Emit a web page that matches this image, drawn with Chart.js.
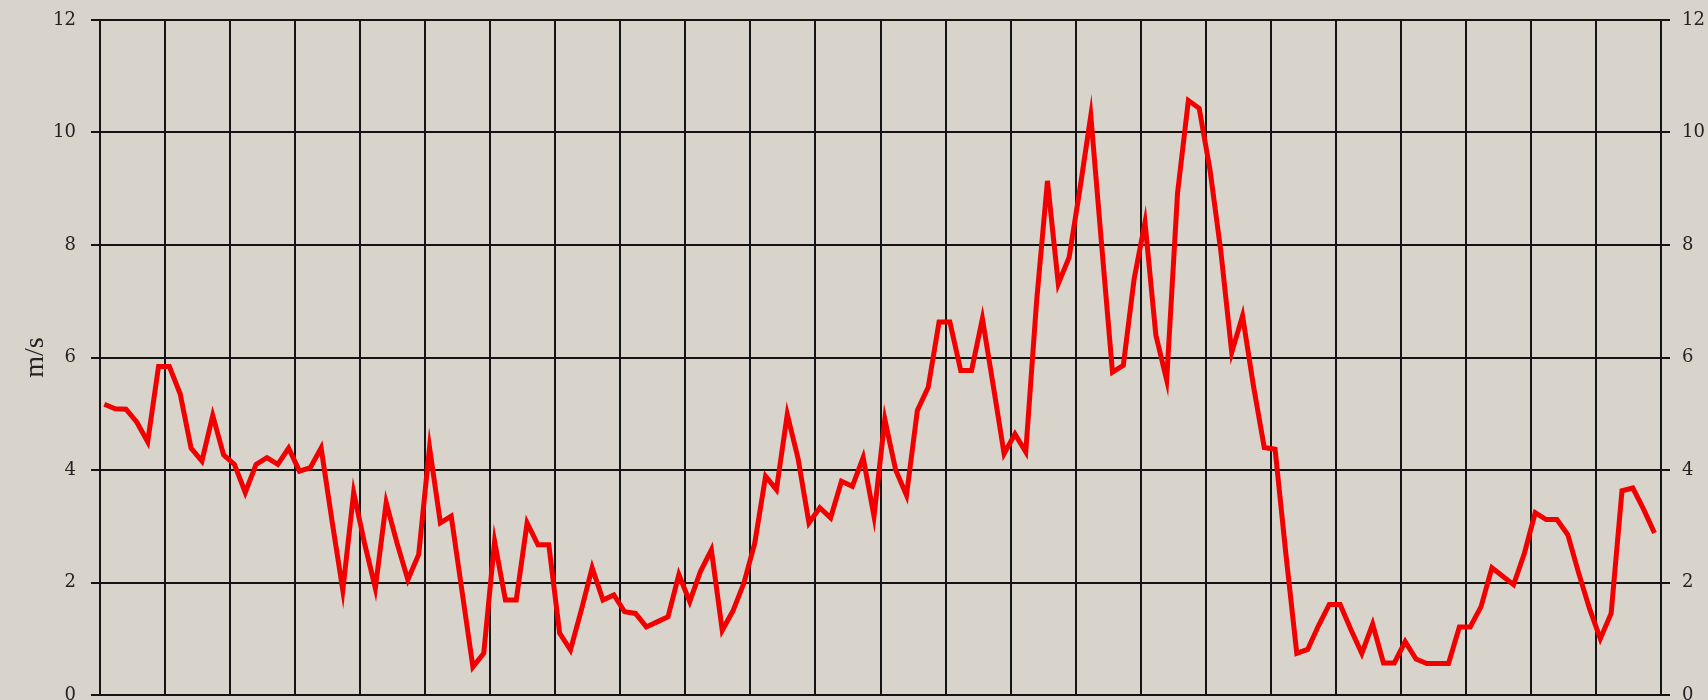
<!DOCTYPE html>
<html>
<head>
<meta charset="utf-8">
<title>Wind speed</title>
<script src="https://cdn.jsdelivr.net/npm/chart.js@4.4.1/dist/chart.umd.min.js"></script>
<style>
  html, body { margin: 0; padding: 0; background: #d8d4cc; overflow: hidden; }
  #wrap { width: 1708px; height: 720px; position: relative; }
  canvas { display: block; }
</style>
</head>
<body>
<div id="wrap"><canvas id="c" width="1708" height="720"></canvas></div>
<script>
// Wind speed readings, one every slot (6 slots per grid division)
const speeds = [
  5.17, 5.09, 5.08, 4.85, 4.50, 5.84, 5.84, 5.35, 4.39, 4.16,
  4.97, 4.27, 4.10, 3.60, 4.10, 4.22, 4.10, 4.39, 3.98, 4.04,
  4.39, 3.10, 1.86, 3.60, 2.70, 1.90, 3.42, 2.70, 2.05, 2.50,
  4.40, 3.06, 3.18, 1.84, 0.50, 0.74, 2.73, 1.69, 1.69, 3.06,
  2.67, 2.67, 1.10, 0.80, 1.51, 2.26, 1.69, 1.78, 1.48, 1.45,
  1.21, 1.30, 1.39, 2.14, 1.66, 2.20, 2.58, 1.15, 1.50, 1.99,
  2.70, 3.89, 3.65, 4.99, 4.20, 3.06, 3.33, 3.15, 3.80, 3.71,
  4.22, 3.18, 4.90, 4.00, 3.55, 5.06, 5.47, 6.63, 6.63, 5.77,
  5.77, 6.69, 5.50, 4.29, 4.64, 4.32, 7.00, 9.14, 7.31, 7.78,
  9.00, 10.30, 8.00, 5.74, 5.86, 7.40, 8.40, 6.40, 5.60, 8.92,
  10.57, 10.43, 9.33, 7.88, 6.09, 6.74, 5.50, 4.40, 4.37, 2.50,
  0.74, 0.81, 1.23, 1.61, 1.61, 1.16, 0.74, 1.26, 0.57, 0.57,
  0.95, 0.64, 0.56, 0.56, 0.56, 1.21, 1.21, 1.57, 2.26, 2.11,
  1.96, 2.52, 3.24, 3.12, 3.12, 2.85, 2.17, 1.54, 1.00, 1.45,
  3.63, 3.68, 3.30, 2.88
];

// Axis tick values and layout of the time grid
const yTickValues = [0, 2, 4, 6, 8, 10, 12];
const divisions = 24;
const slotsPerDivision = 6;
const slotOffset = 0.4;
const unitLabel = 'm/s';

const gridColor = '#141414';
const labelFont = { family: 'DejaVu Serif', size: 18 };

const points = speeds.map((v, i) => ({ x: i + slotOffset, y: v }));

const setYTicks = (scale) => { scale.ticks = yTickValues.map(v => ({ value: v })); };
const setXTicks = (scale) => {
  const t = [];
  for (let k = 0; k <= divisions; k++) t.push({ value: k * slotsPerDivision });
  scale.ticks = t;
};
// Fixed axis widths; end labels may overhang the plot edges
const fitAxis = (width) => (s) => {
  s.width = width;
  s.paddingTop = 0;
  s.paddingBottom = 0;
};

new Chart(document.getElementById('c').getContext('2d'), {
  type: 'line',
  data: {
    datasets: [{
      data: points,
      borderColor: '#f20000',
      borderWidth: 5,
      pointRadius: 0,
      tension: 0,
      fill: false,
      borderJoinStyle: 'miter'
    }]
  },
  options: {
    responsive: false,
    animation: false,
    devicePixelRatio: 1,
    layout: { padding: { top: 20, bottom: 25, left: 0, right: 0 } },
    plugins: { legend: { display: false }, tooltip: { enabled: false } },
    scales: {
      x: {
        type: 'linear',
        min: 0,
        max: divisions * slotsPerDivision,
        afterBuildTicks: setXTicks,
        ticks: { display: false },
        grid: { color: gridColor, lineWidth: 2, drawTicks: false },
        border: { color: gridColor, width: 2 }
      },
      y: {
        position: 'left',
        min: 0,
        max: 12,
        afterBuildTicks: setYTicks,
        afterFit: fitAxis(100),
        ticks: { padding: 15, color: '#222', font: labelFont },
        grid: { color: gridColor, lineWidth: 2, tickLength: 9 },
        border: { color: gridColor, width: 2 },
        title: {
          display: true,
          text: unitLabel,
          color: '#222',
          font: { family: 'Liberation Serif', size: 28 },
          padding: { top: 19, bottom: 0 }
        }
      },
      y2: {
        position: 'right',
        min: 0,
        max: 12,
        afterBuildTicks: setYTicks,
        afterFit: fitAxis(47),
        ticks: { padding: 12, color: '#222', font: labelFont },
        grid: { color: gridColor, lineWidth: 2, tickLength: 9, drawOnChartArea: false },
        border: { color: gridColor, width: 2 }
      }
    }
  }
});
</script>
</body>
</html>
